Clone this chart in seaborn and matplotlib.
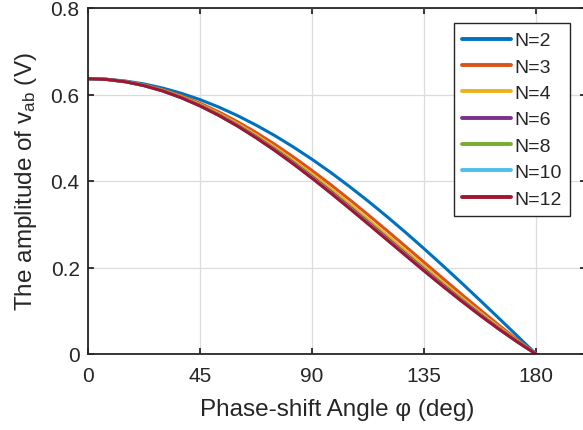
import numpy as np
import pandas as pd
import matplotlib
matplotlib.use("Agg")
import matplotlib.pyplot as plt
import seaborn as sns

# Phase-shift angle samples (deg)
phi = [0, 7.5, 15, 22.5, 30, 37.5, 45, 52.5, 60, 67.5, 75, 82.5, 90,
       97.5, 105, 112.5, 120, 127.5, 135, 142.5, 150, 157.5, 165, 172.5, 180]

# Amplitude of v_ab (V) for each N
amp_N2 = [0.6366, 0.6353, 0.6312, 0.6244, 0.6149, 0.6028, 0.5882, 0.5710, 0.5513, 0.5293, 0.5051, 0.4786, 0.4502,
          0.4198, 0.3875, 0.3537, 0.3183, 0.2816, 0.2436, 0.2046, 0.1648, 0.1242, 0.0831, 0.0416, 0.0]
amp_N3 = [0.6366, 0.6350, 0.6302, 0.6222, 0.6110, 0.5969, 0.5798, 0.5599, 0.5373, 0.5123, 0.4850, 0.4556, 0.4244,
          0.3916, 0.3574, 0.3221, 0.2859, 0.2492, 0.2122, 0.1752, 0.1385, 0.1024, 0.0670, 0.0328, 0.0]
amp_N4 = [0.6366, 0.6349, 0.6298, 0.6214, 0.6097, 0.5948, 0.5769, 0.5561, 0.5325, 0.5065, 0.4783, 0.4480, 0.4159,
          0.3823, 0.3476, 0.3119, 0.2757, 0.2391, 0.2026, 0.1663, 0.1307, 0.0960, 0.0625, 0.0304, 0.0]
amp_N6 = [0.6366, 0.6349, 0.6296, 0.6208, 0.6087, 0.5933, 0.5748, 0.5534, 0.5292, 0.5025, 0.4735, 0.4426, 0.4100,
          0.3759, 0.3408, 0.3050, 0.2687, 0.2323, 0.1961, 0.1604, 0.1255, 0.0918, 0.0595, 0.0288, 0.0]
amp_N8 = [0.6366, 0.6348, 0.6295, 0.6206, 0.6084, 0.5928, 0.5741, 0.5524, 0.5280, 0.5011, 0.4719, 0.4407, 0.4079,
          0.3737, 0.3385, 0.3026, 0.2663, 0.2299, 0.1938, 0.1584, 0.1238, 0.0904, 0.0585, 0.0283, 0.0]
amp_N10 = [0.6366, 0.6348, 0.6294, 0.6205, 0.6082, 0.5926, 0.5737, 0.5520, 0.5274, 0.5004, 0.4711, 0.4399, 0.4070,
           0.3727, 0.3374, 0.3015, 0.2652, 0.2288, 0.1928, 0.1574, 0.1230, 0.0898, 0.0580, 0.0280, 0.0]
amp_N12 = [0.6366, 0.6348, 0.6294, 0.6205, 0.6081, 0.5924, 0.5736, 0.5517, 0.5272, 0.5000, 0.4707, 0.4394, 0.4064,
           0.3722, 0.3369, 0.3009, 0.2646, 0.2283, 0.1923, 0.1569, 0.1226, 0.0894, 0.0578, 0.0279, 0.0]

labels = ["N=2", "N=3", "N=4", "N=6", "N=8", "N=10", "N=12"]
series = [amp_N2, amp_N3, amp_N4, amp_N6, amp_N8, amp_N10, amp_N12]
colors = ["#0072BD", "#D95319", "#EDB120", "#7E2F8E", "#77AC30", "#4DBEEE", "#A2142F"]

x_ticks = [0, 45, 90, 135, 180]
y_ticks = [0, 0.2, 0.4, 0.6, 0.8]
y_tick_labels = ["0", "0.2", "0.4", "0.6", "0.8"]

rows = []
for lab, vals in zip(labels, series):
    for p, v in zip(phi, vals):
        rows.append({"phi": p, "amp": v, "N": lab})
df = pd.DataFrame(rows)

sns.set_theme(style="white")
plt.rcParams["font.family"] = ["Liberation Sans", "DejaVu Sans"]
plt.rcParams["mathtext.fontset"] = "custom"
plt.rcParams["mathtext.rm"] = "Liberation Sans"
plt.rcParams["mathtext.it"] = "Liberation Sans"

fig = plt.figure(figsize=(5.83, 4.31), dpi=100)
ax = fig.add_axes([88 / 583, 1 - 355 / 431, 497.8 / 583, 346 / 431])

sns.lineplot(data=df, x="phi", y="amp", hue="N", hue_order=labels,
             palette=colors, linewidth=2.2, ax=ax, sort=False)

ax.set_xlim(0, 200)
ax.set_ylim(0, 0.8)
ax.set_xticks(x_ticks)
ax.set_xticklabels([str(t) for t in x_ticks])
ax.set_yticks(y_ticks)
ax.set_yticklabels(y_tick_labels)

ax.grid(True, color="#dcdcdc", linewidth=0.9)
ax.set_axisbelow(True)
for s in ax.spines.values():
    s.set_color("#262626")
    s.set_linewidth(1.3)
ax.tick_params(direction="in", length=4, width=1.3, color="#262626",
               labelsize=15, labelcolor="#262626", top=True, right=True,
               bottom=True, left=True)
ax.tick_params(axis="x", pad=9)
ax.tick_params(axis="y", pad=6)

ax.set_xlabel("Phase-shift Angle φ (deg)", fontsize=17.5, color="#262626", labelpad=9)
ax.set_ylabel(r"The amplitude of v$_\mathregular{ab}$ (V)", fontsize=17.5,
              color="#262626", labelpad=8)

leg = ax.legend(loc="upper right", bbox_to_anchor=((570 - 88) / 497.8, (355 - 24) / 346),
                fontsize=14, frameon=True, fancybox=False, framealpha=1,
                edgecolor="#262626", handlelength=2.5, handletextpad=0.15,
                labelspacing=0.45, borderpad=0.45, borderaxespad=0.0)
leg.get_frame().set_linewidth(1.0)
for line in leg.get_lines():
    line.set_linewidth(2.8)

fig.savefig("out.png", dpi=100)
